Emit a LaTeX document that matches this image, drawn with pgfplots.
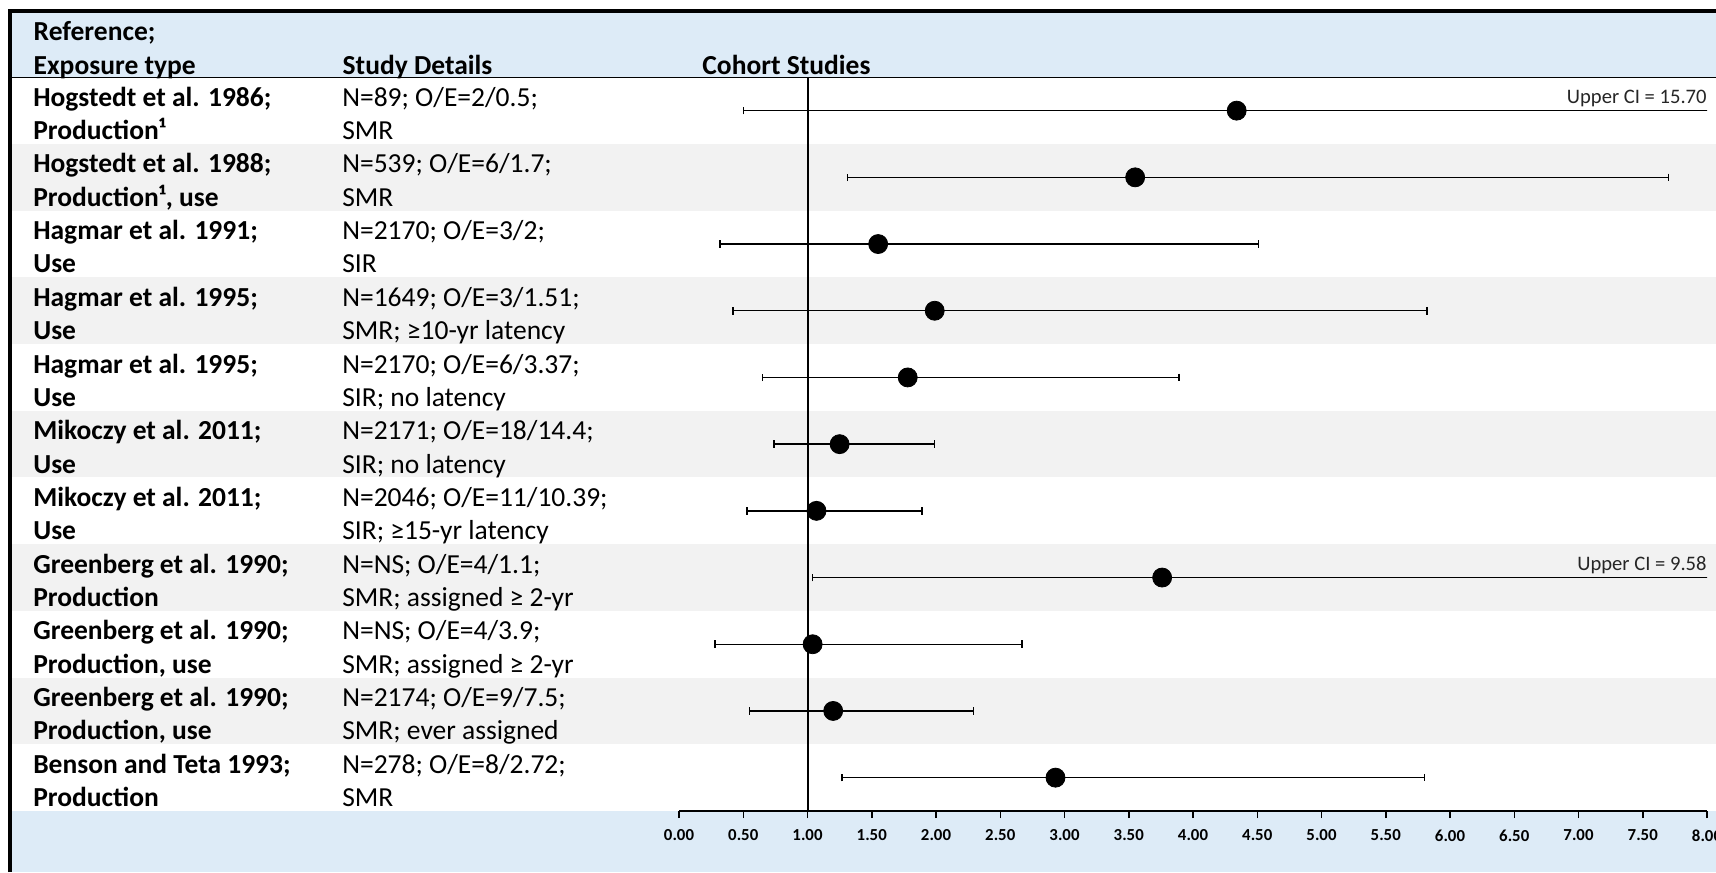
\documentclass[border=0pt]{standalone}
\usepackage{pgfplots}
\usepackage{pgfplotstable}
\pgfplotsset{compat=1.18}
\usepackage{fontspec}
\setmainfont{Carlito}
\definecolor{hdrblue}{HTML}{DDEBF7}
\definecolor{rowgray}{HTML}{F2F2F2}
\newcommand{\rowlab}[4]{\fontsize{13.75pt}{16.67pt}\selectfont\begin{tabular}{@{}p{154.5pt}@{}l@{}}\textbf{#1} & #3\\ \textbf{#2} & #4\end{tabular}}
\newcommand{\hdrfont}{\bfseries\fontsize{13.75pt}{16.67pt}\selectfont}

\pgfplotstableread{
y est lo hi
11 4.34 0.50 15.70
10 3.55 1.31 7.70
9 1.55 0.32 4.51
8 1.99 0.42 5.82
7 1.78 0.65 3.89
6 1.25 0.74 1.99
5 1.07 0.53 1.89
4 3.76 1.04 9.58
3 1.04 0.28 2.67
2 1.20 0.55 2.29
1 2.93 1.27 5.80
}\cidata

\begin{document}
\begin{tikzpicture}
\useasboundingbox (0,0) rectangle (858pt,436pt);
\clip (0,0) rectangle (858pt,436pt);
\fill[white] (0,0) rectangle (858pt,436pt);
\fill[hdrblue] (5pt,397.35pt) rectangle (858pt,430.5pt);
\fill[hdrblue] (5pt,0pt) rectangle (858pt,30.5pt);
\foreach \i in {2,4,6,8,10}{
  \fill[rowgray] (5pt,{397.35pt-(\i-1)*33.35pt}) rectangle (858pt,{397.35pt-\i*33.35pt});
}
\draw[line width=0.75pt] (5pt,397.35pt) -- (858pt,397.35pt);
\draw[line width=1.6pt] (5pt,0pt) -- (5pt,430.5pt) -- (860pt,430.5pt);

\node[anchor=base west, inner sep=0pt, font=\hdrfont] at (16.65pt,415.7pt) {Reference;};
\node[anchor=base west, inner sep=0pt, font=\hdrfont] at (16.65pt,398.9pt) {Exposure type};
\node[anchor=base west, inner sep=0pt, font=\hdrfont] at (171.15pt,398.9pt) {Study Details};
\node[anchor=base west, inner sep=0pt, font=\hdrfont] at (351pt,398.9pt) {Cohort Studies};

\begin{axis}[
  at={(339.5pt,30.5pt)}, anchor=south west,
  scale only axis, width=514pt, height=366.85pt,
  xmin=0, xmax=8, ymin=0.5, ymax=11.5,
  axis x line=bottom, axis y line=left,
  x axis line style={-, line width=0.75pt, black},
  y axis line style={draw=none},
  xtick={0,0.5,...,8},
  xtick style={black, line width=0.75pt},
  tick align=outside, major tick length=3.5pt,
  /pgf/number format/assume math mode=true,
  xticklabel={\pgfmathprintnumber[fixed,fixed zerofill,precision=2]{\tick}},
  xticklabel style={font=\bfseries\fontsize{8.4pt}{10pt}\selectfont, anchor=center, inner sep=0pt},
  xticklabel shift=8.7pt,
  ytick={1,...,11},
  ytick style={draw=none},
  yticklabels={
    {\rowlab{Benson and Teta 1993;}{Production}{N=278; O/E=8/2.72;}{SMR}},
    {\rowlab{Greenberg et al. 1990;}{Production, use}{N=2174; O/E=9/7.5;}{SMR; ever assigned}},
    {\rowlab{Greenberg et al. 1990;}{Production, use}{N=NS; O/E=4/3.9;}{SMR; assigned ≥ 2-yr}},
    {\rowlab{Greenberg et al. 1990;}{Production}{N=NS; O/E=4/1.1;}{SMR; assigned ≥ 2-yr}},
    {\rowlab{Mikoczy et al. 2011;}{Use}{N=2046; O/E=11/10.39;}{SIR; ≥15-yr latency}},
    {\rowlab{Mikoczy et al. 2011;}{Use}{N=2171; O/E=18/14.4;}{SIR; no latency}},
    {\rowlab{Hagmar et al. 1995;}{Use}{N=2170; O/E=6/3.37;}{SIR; no latency}},
    {\rowlab{Hagmar et al. 1995;}{Use}{N=1649; O/E=3/1.51;}{SMR; ≥10-yr latency}},
    {\rowlab{Hagmar et al. 1991;}{Use}{N=2170; O/E=3/2;}{SIR}},
    {\rowlab{Hogstedt et al. 1988;}{Production¹, use}{N=539; O/E=6/1.7;}{SMR}},
    {\rowlab{Hogstedt et al. 1986;}{Production¹}{N=89; O/E=2/0.5;}{SMR}}
  },
  yticklabel style={anchor=west, inner sep=0pt, xshift=-319.55pt, yshift=-2.8pt},
  clip=true,
]
\addplot[black, line width=1pt, forget plot] coordinates {(1,0.5) (1,11.5)};
\addplot[only marks, mark=*, mark size=4.75pt, black,
  error bars/.cd, x dir=both, x explicit,
  error mark=|,
  error bar style={line width=0.7pt, black},
  error mark options={black, mark size=1.9pt, line width=0.7pt}]
  table[x=est, y=y, x error plus expr=\thisrow{hi}-\thisrow{est}, x error minus expr=\thisrow{est}-\thisrow{lo}] {\cidata};
\node[anchor=base east, inner sep=0pt, font=\fontsize{10.3pt}{12pt}\selectfont, text=black!85, yshift=3.5pt] at (axis cs:8,11) {Upper CI = 15.70};
\node[anchor=base east, inner sep=0pt, font=\fontsize{10.3pt}{12pt}\selectfont, text=black!85, yshift=3.5pt] at (axis cs:8,4) {Upper CI = 9.58};
\end{axis}
\end{tikzpicture}
\end{document}
